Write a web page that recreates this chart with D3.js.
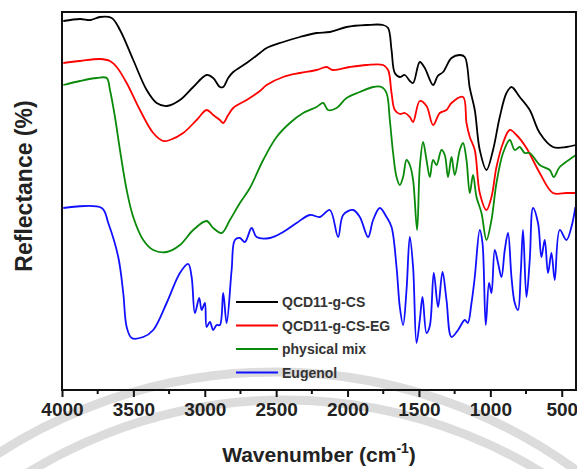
<!DOCTYPE html>
<html>
<head>
<meta charset="utf-8">
<script src="https://cdn.jsdelivr.net/npm/d3@7"></script>
<style>
  body { margin: 0; background: #fff; }
  svg { display: block; font-family: 'Liberation Sans', Arial, sans-serif; }
</style>
</head>
<body>
<script>
const outerWidth = 577
const outerHeight = 469
const margins = { top: 12, right: 1, bottom: 79, left: 62 }

// FTIR spectra, [wavenumber cm-1, reflectance a.u.]
const qcdCs = [
  [3991, 369], [3874, 371], [3800, 370], [3734, 373], [3652, 372], [3594, 360],
  [3501, 330], [3407, 300], [3337, 287], [3267, 284], [3174, 290], [3081, 303],
  [2987, 315], [2941, 312], [2894, 303], [2871, 303], [2836, 312], [2801, 318],
  [2707, 327], [2614, 337], [2567, 342], [2451, 348], [2334, 353], [2217, 357],
  [2124, 358], [2007, 363], [1867, 365], [1751, 365], [1716, 362], [1692, 340],
  [1669, 317], [1634, 313], [1599, 315], [1564, 309], [1541, 307], [1494, 328],
  [1459, 322], [1401, 305], [1368, 314], [1331, 318], [1272, 332], [1214, 335],
  [1179, 333], [1144, 302], [1109, 280], [1074, 240], [1027, 220], [981, 240],
  [934, 273], [887, 297], [852, 303], [794, 293], [724, 280], [654, 257],
  [561, 243], [467, 243], [402, 245]
]
const qcdCsEg = [
  [3991, 327], [3874, 329], [3734, 331], [3664, 329], [3617, 323], [3547, 307],
  [3454, 280], [3361, 257], [3291, 249], [3244, 250], [3151, 257], [3057, 270],
  [2987, 280], [2941, 275], [2894, 270], [2871, 267], [2836, 275], [2801, 282],
  [2707, 290], [2614, 299], [2567, 305], [2451, 313], [2334, 317], [2217, 320],
  [2147, 323], [2103, 320], [1984, 323], [1867, 325], [1751, 325], [1716, 320],
  [1692, 297], [1669, 280], [1634, 276], [1599, 277], [1564, 273], [1541, 268],
  [1494, 289], [1447, 284], [1401, 265], [1354, 277], [1307, 280], [1272, 287],
  [1191, 293], [1167, 267], [1144, 253], [1109, 240], [1074, 197], [1027, 180],
  [992, 193], [957, 223], [911, 247], [864, 260], [817, 255], [747, 242],
  [654, 217], [561, 197], [467, 197], [402, 197]
]
const physicalMix = [
  [3991, 305], [3874, 309], [3757, 312], [3687, 312], [3664, 300], [3629, 273],
  [3594, 240], [3547, 200], [3501, 173], [3431, 150], [3361, 140], [3267, 138],
  [3174, 145], [3081, 160], [2987, 169], [2941, 162], [2882, 157], [2824, 170],
  [2754, 187], [2684, 202], [2591, 230], [2497, 253], [2404, 267], [2311, 277],
  [2217, 283], [2171, 287], [2136, 280], [2077, 282], [2007, 292], [1914, 298],
  [1821, 303], [1762, 303], [1727, 297], [1704, 270], [1681, 237], [1657, 213],
  [1634, 205], [1611, 213], [1587, 230], [1564, 225], [1541, 210], [1513, 160],
  [1494, 223], [1471, 248], [1447, 230], [1424, 213], [1401, 230], [1377, 225],
  [1342, 240], [1319, 235], [1296, 213], [1272, 233], [1249, 215], [1214, 240],
  [1191, 247], [1167, 230], [1144, 197], [1121, 215], [1097, 193], [1062, 177],
  [1027, 150], [992, 170], [957, 207], [911, 237], [864, 250], [829, 240],
  [794, 243], [759, 237], [724, 237], [654, 225], [584, 220], [556, 213],
  [514, 223], [421, 233], [402, 235]
]
const eugenol = [
  [3991, 182], [3722, 182], [3676, 167], [3606, 133], [3571, 97], [3547, 63],
  [3512, 52], [3431, 53], [3361, 60], [3267, 87], [3174, 117], [3116, 126],
  [3092, 113], [3069, 77], [3039, 92], [3022, 80], [2999, 87], [2987, 63],
  [2964, 68], [2941, 60], [2917, 65], [2894, 65], [2871, 97], [2847, 67],
  [2812, 120], [2789, 150], [2754, 152], [2719, 148], [2672, 162], [2637, 153],
  [2544, 152], [2451, 158], [2357, 167], [2264, 175], [2194, 173], [2124, 180],
  [2066, 153], [2031, 175], [1961, 180], [1914, 173], [1856, 153], [1821, 170],
  [1774, 182], [1727, 173], [1692, 163], [1657, 123], [1634, 83], [1611, 65],
  [1587, 100], [1564, 153], [1541, 123], [1517, 47], [1494, 70], [1475, 93],
  [1447, 57], [1424, 64], [1396, 117], [1366, 83], [1335, 118], [1307, 90],
  [1272, 53], [1226, 60], [1179, 70], [1158, 67], [1132, 87], [1109, 113],
  [1074, 160], [1055, 147], [1032, 65], [1009, 107], [992, 97], [969, 140],
  [946, 127], [922, 113], [899, 140], [876, 157], [852, 113], [829, 87],
  [806, 80], [787, 117], [771, 160], [747, 93], [724, 130], [701, 182],
  [666, 167], [642, 133], [619, 150], [596, 117], [572, 137], [549, 110],
  [514, 160], [467, 150], [432, 163], [404, 183]
]

const seriesNames = ['QCD11-g-CS', 'QCD11-g-CS-EG', 'physical mix', 'Eugenol']
const seriesColors = ['#000000', '#ff0000', '#0a8a0a', '#1010ff']
const seriesData = [qcdCs, qcdCsEg, physicalMix, eugenol]
const xTicks = [4000, 3500, 3000, 2500, 2000, 1500, 1000, 500]
const xMinorTicks = [3750, 3250, 2750, 2250, 1750, 1250, 750]

const svg = d3.select('body').append('svg')
  .attr('width', outerWidth)
  .attr('height', outerHeight)

// faint watermark arcs behind the chart
const watermark = svg.append('g')
  .attr('fill', 'none')
  .attr('stroke', '#dcdcdc')
  .attr('stroke-width', 9)
watermark.append('circle').attr('cx', 275).attr('cy', 882).attr('r', 510)
watermark.append('circle').attr('cx', 285).attr('cy', 890).attr('r', 490)

const xScale = d3.scaleLinear()
  .domain([4000, 400])
  .range([margins.left, outerWidth - margins.right])
const yScale = d3.scaleLinear()
  .domain([0, 378])
  .range([outerHeight - margins.bottom, margins.top])

const line = d3.line()
  .x(d => xScale(d[0]))
  .y(d => yScale(d[1]))
  .curve(d3.curveCatmullRom.alpha(0.5))

svg.append('defs').append('clipPath').attr('id', 'plot-clip')
  .append('rect')
  .attr('x', margins.left)
  .attr('y', margins.top)
  .attr('width', outerWidth - margins.right - margins.left)
  .attr('height', outerHeight - margins.bottom - margins.top)

svg.append('g')
  .attr('clip-path', 'url(#plot-clip)')
  .selectAll('path')
  .data(seriesData)
  .enter()
  .append('path')
  .attr('d', line)
  .attr('fill', 'none')
  .attr('stroke', (d, i) => seriesColors[i])
  .attr('stroke-width', 1.8)
  .attr('stroke-linejoin', 'round')

// frame
svg.append('rect')
  .attr('x', margins.left)
  .attr('y', margins.top)
  .attr('width', outerWidth - margins.right - margins.left)
  .attr('height', outerHeight - margins.bottom - margins.top)
  .attr('fill', 'none')
  .attr('stroke', '#111')
  .attr('stroke-width', 2)

const xAxis = svg.append('g')
  .attr('transform', `translate(0,${outerHeight - margins.bottom})`)
  .call(d3.axisBottom(xScale)
    .tickValues(xTicks)
    .tickFormat(d3.format('d'))
    .tickSize(7)
    .tickPadding(6))
xAxis.select('.domain').remove()
xAxis.selectAll('line').attr('stroke', '#111').attr('stroke-width', 2)
xAxis.selectAll('text')
  .attr('fill', '#222')
  .style('font-size', '19px')
  .style('font-weight', 'bold')

svg.append('g')
  .attr('transform', `translate(0,${outerHeight - margins.bottom})`)
  .selectAll('line')
  .data(xMinorTicks)
  .enter()
  .append('line')
  .attr('x1', xScale)
  .attr('x2', xScale)
  .attr('y1', 0)
  .attr('y2', 4)
  .attr('stroke', '#111')
  .attr('stroke-width', 2)

// axis titles
const xTitle = svg.append('text')
  .attr('x', (margins.left + outerWidth - margins.right) / 2)
  .attr('y', 462)
  .attr('text-anchor', 'middle')
  .attr('fill', '#222')
  .style('font-size', '21px')
  .style('font-weight', 'bold')
xTitle.append('tspan').text('Wavenumber (cm')
xTitle.append('tspan').attr('dy', -9).style('font-size', '14px').text('-1')
xTitle.append('tspan').attr('dy', 9).text(')')

svg.append('text')
  .attr('transform', 'translate(32,186) rotate(-90)')
  .attr('text-anchor', 'middle')
  .attr('fill', '#222')
  .style('font-size', '23px')
  .style('font-weight', 'bold')
  .text('Reflectance (%)')

// legend
const legend = svg.append('g')
  .selectAll('g')
  .data(seriesNames)
  .enter()
  .append('g')
  .attr('transform', (d, i) => `translate(236,${302 + i * 23.5})`)
legend.append('line')
  .attr('x1', 0)
  .attr('x2', 42)
  .attr('stroke', (d, i) => seriesColors[i])
  .attr('stroke-width', 2)
legend.append('text')
  .attr('x', 46)
  .attr('dy', '0.36em')
  .attr('fill', '#333')
  .style('font-size', '14px')
  .style('font-weight', 'bold')
  .text(d => d)
</script>
</body>
</html>
